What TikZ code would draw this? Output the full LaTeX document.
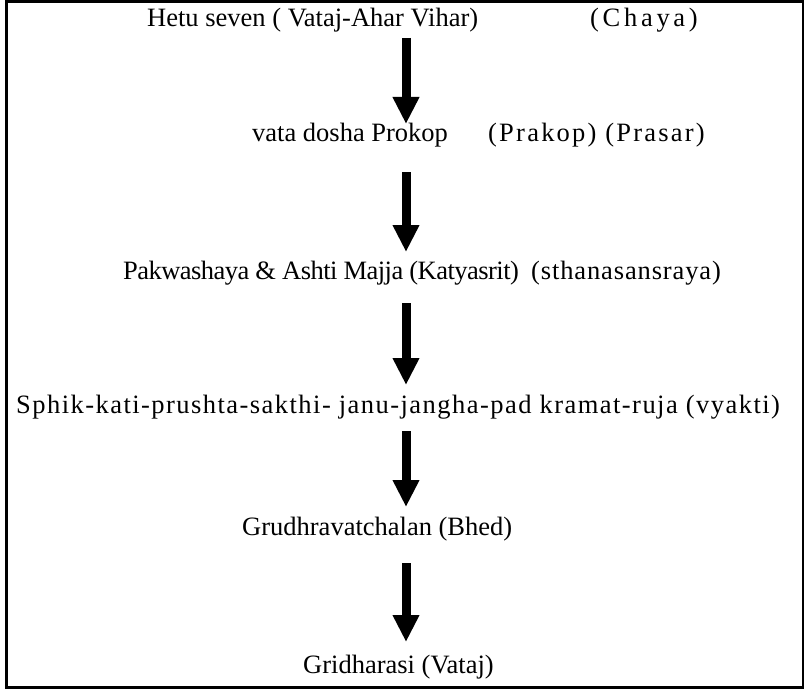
\documentclass[tikz,border=0pt]{standalone}
\usepackage{fontspec}
\setmainfont{Liberation Serif}
\usetikzlibrary{arrows.meta}
\tikzset{
  lbl/.style={anchor=base west, inner sep=0pt, font=\fontsize{26.5}{30}\selectfont},
  flow/.style={line width=9pt, -{Triangle[width=25pt,length=27pt]}},
}
\begin{document}
\begin{tikzpicture}[x=1pt,y=-1pt]
\useasboundingbox (0,0) rectangle (808,690);
\draw[line width=2.5pt] (6.5,1.5) rectangle (803,687.5);
\node[lbl] (h1) at (147,27) {Hetu seven ( Vataj-Ahar Vihar)};
\node[lbl] (h1b) at (590,27) {\addfontfeatures{LetterSpace=14}(Chaya)};
\node[lbl] (h2) at (252,142) {vata dosha Prokop};
\node[lbl] (h2b) at (488,142) {\addfontfeatures{LetterSpace=8.4}(Prakop) (Prasar)};
\node[lbl] (h3) at (123,279) {\addfontfeatures{LetterSpace=-2}Pakwashaya \& Ashti Majja (Katyasrit)};
\node[lbl] (h3b) at (531,279) {\addfontfeatures{LetterSpace=3.3}(sthanasansraya)};
\node[lbl] (h4) at (16,413) {\addfontfeatures{LetterSpace=5.5}Sphik-kati-prushta-sakthi- janu-jangha-pad kramat-ruja (vyakti)};
\node[lbl] (h5) at (242,535) {Grudhravatchalan (Bhed)};
\node[lbl] (h6) at (303,673) {Gridharasi (Vataj)};
\coordinate (a1s) at (406,38); \coordinate (a1e) at (406,124);
\coordinate (a2s) at (406,172); \coordinate (a2e) at (406,252);
\coordinate (a3s) at (406,303); \coordinate (a3e) at (406,385);
\coordinate (a4s) at (406,431); \coordinate (a4e) at (406,507);
\coordinate (a5s) at (406,563); \coordinate (a5e) at (406,642);
\draw[flow] (a1s) -- (a1e);
\draw[flow] (a2s) -- (a2e);
\draw[flow] (a3s) -- (a3e);
\draw[flow] (a4s) -- (a4e);
\draw[flow] (a5s) -- (a5e);
\end{tikzpicture}
\end{document}
